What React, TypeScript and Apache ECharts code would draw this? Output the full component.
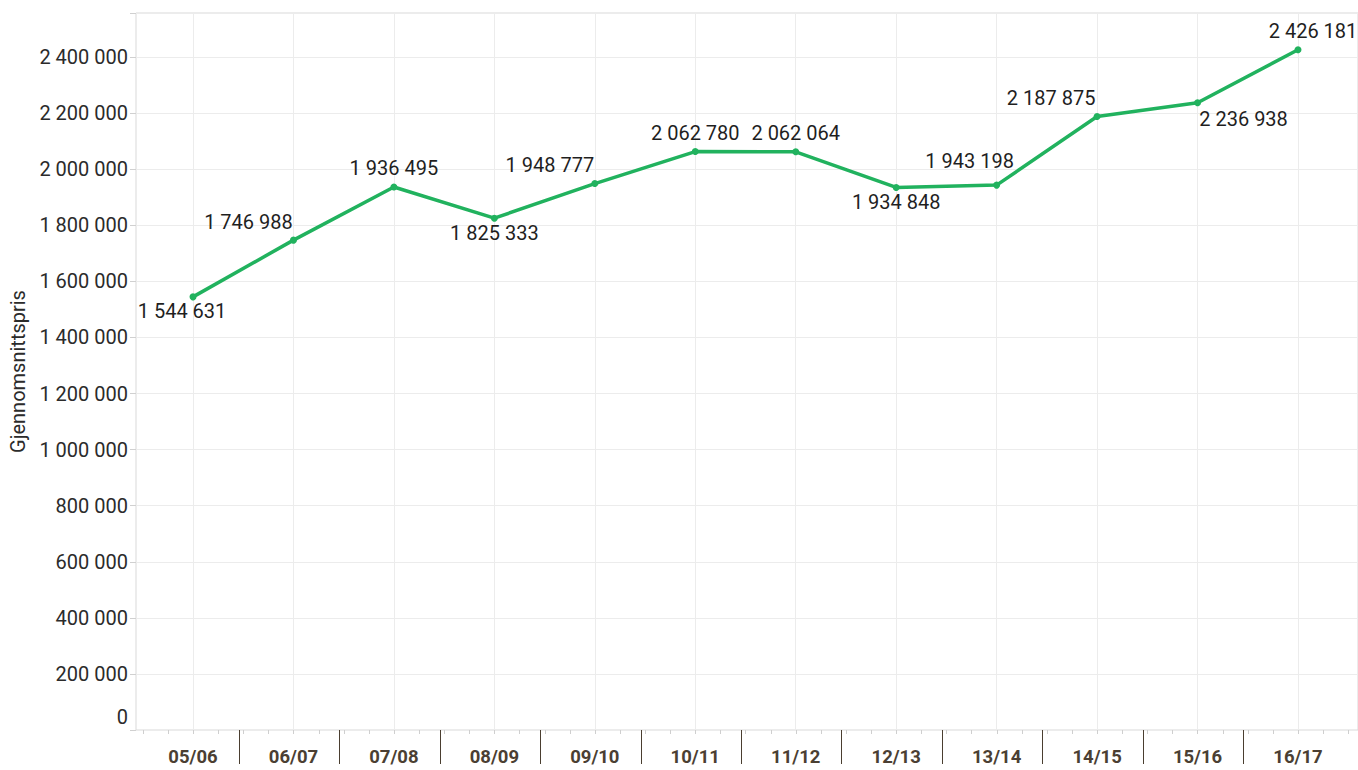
import React, { useEffect, useRef } from "react";
import * as echarts from "echarts";

const categories = ["05/06", "06/07", "07/08", "08/09", "09/10", "10/11", "11/12", "12/13", "13/14", "14/15", "15/16", "16/17"];
const prices = [1544631, 1746988, 1936495, 1825333, 1948777, 2062780, 2062064, 1934848, 1943198, 2187875, 2236938, 2426181];
const yTickStep = 200000;
const yMax = 2557000;
const yAxisName = "Gjennomsnittspris";

// label placement per point: [position, dx, dy]
const labelPlacement: [string, number, number][] = [
  ["bottom", -11, -4],
  ["top", -45, 0],
  ["top", 0, 0],
  ["bottom", 0, -4],
  ["top", -45, 0],
  ["top", 0, 0],
  ["top", 0, 0],
  ["bottom", 0, -4],
  ["top", -27, -6],
  ["top", -46, 0],
  ["bottom", 46, -2],
  ["top", 15, 0],
];

const fmt = (v: number) => String(Math.round(v)).replace(/\B(?=(\d{3})+(?!\d))/g, " ");

export default function App() {
  const ref = useRef<HTMLDivElement>(null);
  useEffect(() => {
    document.body.style.margin = "0";
    const chart = echarts.init(ref.current!, undefined, { renderer: "svg" });
    const font = "Roboto, 'DejaVu Sans', sans-serif";
    const top = 13;
    const bottom = 40;
    const seriesData = prices.map((v, i) => ({
      value: v,
      label: {
        position: labelPlacement[i][0] as any,
        offset: [labelPlacement[i][1], labelPlacement[i][2]],
      },
    }));
    chart.setOption({
      animation: false,
      backgroundColor: "#ffffff",
      grid: [
        { left: 193, right: 60, top, bottom },
        { left: 136, right: -2, top, bottom, show: true, borderColor: "#d9d9d9", borderWidth: 1, backgroundColor: "transparent" },
        { left: 143, right: 9.6, top, bottom },
        { left: 239, right: 114.5, top, bottom },
      ],
      xAxis: [
        {
          type: "category",
          gridIndex: 0,
          data: categories,
          boundaryGap: false,
          axisLine: { show: false },
          axisTick: { show: false },
          axisLabel: { interval: 0, fontFamily: font, fontSize: 18.5, fontWeight: "bold", color: "#4b3f33", margin: 17 },
          splitLine: { show: true, interval: 0, lineStyle: { color: "#ececec", width: 1 } },
        },
        { type: "value", gridIndex: 1, show: false, min: 0, max: 1 },
        {
          type: "value",
          gridIndex: 2,
          min: 0,
          max: 48,
          interval: 1,
          axisLine: { show: false },
          axisTick: { show: true, length: 4, lineStyle: { color: "#cfcfcf" } },
          axisLabel: { show: false },
          splitLine: { show: false },
        },
        {
          type: "value",
          gridIndex: 3,
          min: 1,
          max: 11,
          interval: 1,
          offset: 6,
          axisLine: { show: false },
          axisTick: { show: true, length: 34, lineStyle: { color: "#4a3e30", width: 1 } },
          axisLabel: { show: false },
          splitLine: { show: false },
        },
      ],
      yAxis: [
        { type: "value", gridIndex: 0, min: 0, max: yMax, show: false, splitLine: { show: false } },
        {
          type: "value",
          gridIndex: 1,
          min: 0,
          max: yMax,
          interval: yTickStep,
          name: yAxisName,
          nameLocation: "middle",
          nameRotate: 90,
          nameGap: 107,
          nameTextStyle: { fontFamily: font, fontSize: 20, color: "#2b2b2b" },
          axisLine: { show: false },
          axisTick: { show: true, length: 6, lineStyle: { color: "#d0d0d0" } },
          axisLabel: {
            fontFamily: font,
            fontSize: 20,
            color: "#2b2b2b",
            margin: 8,
            formatter: (v: number) => (v === 0 ? "{z|0}" : v % yTickStep === 0 ? fmt(v) : ""),
            rich: { z: { fontFamily: font, fontSize: 20, color: "#2b2b2b", padding: [0, 0, 26, 0] } },
          },
          splitLine: { show: true, lineStyle: { color: "#ececec", width: 1 } },
        },
        { type: "value", gridIndex: 2, show: false, min: 0, max: 1 },
        { type: "value", gridIndex: 3, show: false, min: 0, max: 1 },
      ],
      series: [
        {
          type: "line",
          xAxisIndex: 0,
          yAxisIndex: 0,
          data: seriesData,
          symbol: "circle",
          symbolSize: 7,
          lineStyle: { color: "#21b25e", width: 3.5 },
          itemStyle: { color: "#21b25e" },
          label: {
            show: true,
            fontFamily: font,
            fontSize: 20,
            color: "#1f1f1f",
            formatter: (p: any) => fmt(p.value),
          },
          z: 5,
        },
      ],
    });
    return () => chart.dispose();
  }, []);
  return <div ref={ref} style={{ position: "absolute", left: 0, top: 0, width: 1358, height: 770 }} />;
}
